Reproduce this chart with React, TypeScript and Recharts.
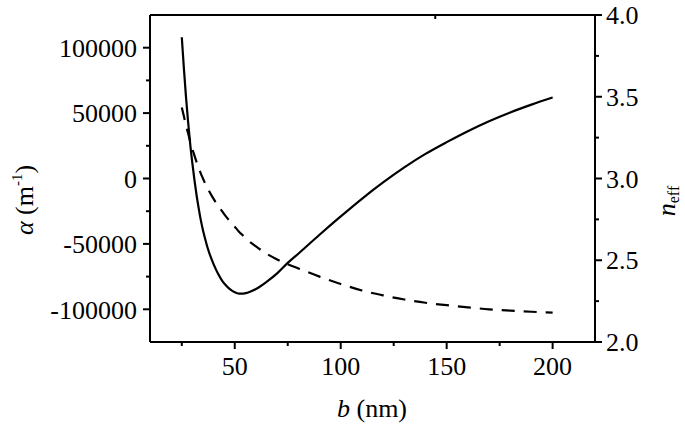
import { LineChart, Line, XAxis, YAxis } from 'recharts'

const FONT = '"Liberation Serif", "Times New Roman", serif'

// b (nm)
const bValues = [25, 26, 27, 28, 29, 30, 31, 32, 33, 34, 35, 36, 37, 38, 40, 42, 44, 46, 48, 50, 52, 54, 56, 60, 65, 70, 75, 80, 90, 100, 110, 120, 130, 140, 150, 160, 170, 180, 190, 200]
// alpha (m^-1), solid line, left axis
const alphaValues = [108000, 84000, 62000, 43000, 26000, 11500, -1500, -13000, -23000, -32000, -39500, -46000, -52000, -57000, -65500, -72500, -78000, -82000, -85000, -87000, -88000, -88000, -87300, -84500, -79000, -72500, -64500, -57500, -43000, -29000, -15500, -3000, 8500, 18800, 27800, 36200, 43800, 50500, 56500, 62000]
// n_eff, dashed line, right axis
const neffValues = [3.435, 3.38, 3.325, 3.275, 3.225, 3.18, 3.14, 3.1, 3.065, 3.03, 3.0, 2.97, 2.945, 2.92, 2.875, 2.835, 2.8, 2.765, 2.735, 2.705, 2.675, 2.65, 2.625, 2.585, 2.54, 2.505, 2.475, 2.45, 2.4, 2.355, 2.315, 2.285, 2.26, 2.24, 2.225, 2.212, 2.2, 2.192, 2.185, 2.18]

const xTicks = [25, 50, 75, 100, 125, 150, 175, 200]
const xMajor = [50, 100, 150, 200]
const alphaTicks = [-100000, -75000, -50000, -25000, 0, 25000, 50000, 75000, 100000]
const alphaMajor = [-100000, -50000, 0, 50000, 100000]
const neffTicks = [2, 2.25, 2.5, 2.75, 3, 3.25, 3.5, 3.75, 4]
const neffMajor = [2, 2.5, 3, 3.5, 4]

const data = bValues.map((b, i) => ({ b, alpha: alphaValues[i], neff: neffValues[i] }))

const MAJOR = 7
const MINOR = 4

function BottomTick({ x, y, payload }: any) {
  const major = xMajor.includes(payload.value)
  return (
    <g>
      <line x1={x} y1={y} x2={x} y2={y + (major ? MAJOR : MINOR)} stroke="#000" strokeWidth={2} />
      {major && (
        <text x={x} y={y + 33} textAnchor="middle" fontSize={26} fontFamily={FONT} fill="#000">
          {payload.value}
        </text>
      )}
    </g>
  )
}

function TopTick({ x, y, payload }: any) {
  const major = xMajor.includes(payload.value)
  return <line x1={x} y1={y} x2={x} y2={y + (major ? MAJOR : MINOR)} stroke="#000" strokeWidth={2} />
}

function LeftTick({ x, y, payload }: any) {
  const major = alphaMajor.includes(payload.value)
  return (
    <g>
      <line x1={x} y1={y} x2={x - (major ? MAJOR : MINOR)} y2={y} stroke="#000" strokeWidth={2} />
      {major && (
        <text x={x - 13} y={y} dy="0.355em" textAnchor="end" fontSize={26} fontFamily={FONT} fill="#000">
          {payload.value}
        </text>
      )}
    </g>
  )
}

function RightTick({ x, y, payload }: any) {
  const major = neffMajor.includes(payload.value)
  return (
    <g>
      <line x1={x} y1={y} x2={x + (major ? MAJOR : MINOR)} y2={y} stroke="#000" strokeWidth={2} />
      {major && (
        <text x={x + 11} y={y} dy="0.355em" textAnchor="start" fontSize={26} fontFamily={FONT} fill="#000">
          {payload.value.toFixed(1)}
        </text>
      )}
    </g>
  )
}

const axisLine = { stroke: '#000', strokeWidth: 2 }

export default function App() {
  return (
    <div style={{ position: 'absolute', left: 0, top: 0, background: '#fff' }}>
      <LineChart width={685} height={429} data={data} margin={{ top: 14, right: 0, bottom: 0, left: 0 }}>
        <XAxis
          xAxisId="b"
          dataKey="b"
          type="number"
          domain={[10, 220]}
          ticks={xTicks}
          interval={0}
          height={87}
          tickSize={0}
          tickMargin={0}
          tick={<BottomTick />}
          axisLine={axisLine}
          label={{
            content: () => (
              <text x={372} y={417} textAnchor="middle" fontSize={26} fontFamily={FONT} fill="#000">
                <tspan fontStyle="italic">b</tspan> (nm)
              </text>
            ),
          }}
        />
        <XAxis
          xAxisId="top"
          orientation="top"
          type="number"
          domain={[10, 220]}
          ticks={xTicks}
          interval={0}
          height={1}
          tickSize={0}
          tickMargin={0}
          tick={<TopTick />}
          axisLine={axisLine}
        />
        <YAxis
          yAxisId="left"
          type="number"
          domain={[-125000, 125000]}
          ticks={alphaTicks}
          interval={0}
          width={150}
          tickSize={0}
          tickMargin={0}
          tick={<LeftTick />}
          axisLine={axisLine}
          label={{
            content: () => (
              <text transform="rotate(-90, 33, 200)" x={33} y={200} textAnchor="middle" fontSize={26} fontFamily={FONT} fill="#000">
                <tspan fontStyle="italic">α</tspan> (m<tspan dy={-11} fontSize={15}>-1</tspan>
                <tspan dy={11}>)</tspan>
              </text>
            ),
          }}
        />
        <YAxis
          yAxisId="right"
          orientation="right"
          type="number"
          domain={[2, 4]}
          ticks={neffTicks}
          interval={0}
          width={90}
          tickSize={0}
          tickMargin={0}
          tick={<RightTick />}
          axisLine={axisLine}
          label={{
            content: () => (
              <text transform="rotate(-90, 675, 201)" x={675} y={201} textAnchor="middle" fontSize={26} fontFamily={FONT} fill="#000">
                <tspan fontStyle="italic">n</tspan>
                <tspan dy={4} fontSize={16}>eff</tspan>
              </text>
            ),
          }}
        />
        <Line
          xAxisId="b"
          yAxisId="left"
          type="monotone"
          dataKey="alpha"
          stroke="#000"
          strokeWidth={2.2}
          dot={false}
          isAnimationActive={false}
        />
        <Line
          xAxisId="b"
          yAxisId="right"
          type="monotone"
          dataKey="neff"
          stroke="#000"
          strokeWidth={2.2}
          strokeDasharray="13 9"
          dot={false}
          isAnimationActive={false}
        />
      </LineChart>
    </div>
  )
}
